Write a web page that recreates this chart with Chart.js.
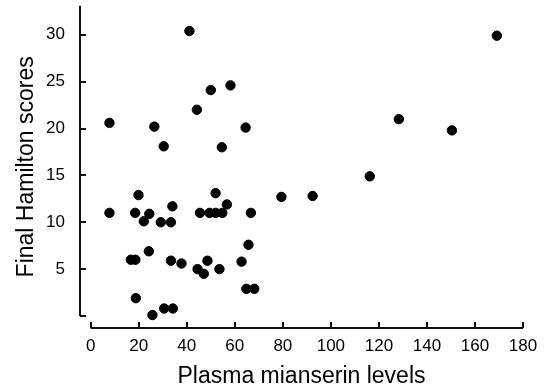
<!DOCTYPE html>
<html>
<head>
<meta charset="utf-8">
<script src="https://cdn.jsdelivr.net/npm/chart.js@4"></script>
<style>
    html, body { margin: 0; padding: 0; background: #fff; }
    #wrap { width: 551px; height: 392px; }
</style>
</head>
<body>
<div id="wrap"><canvas id="scatterChart" width="551" height="392"></canvas></div>
<script>
// Werte (Plasma-Spiegel, Hamilton-Score)
const mianserinLevels = [
    7.8, 7.8, 41.1, 44.2, 50.0, 58.2, 26.5, 30.4, 64.5, 54.6,
    19.9, 18.5, 24.4, 22.1, 29.2, 33.4, 34.0, 24.2, 16.7, 18.6,
    33.4, 37.8, 18.8, 25.7, 30.6, 34.2, 45.5, 49.5, 52.0, 54.8,
    52.0, 56.7, 66.7, 65.7, 62.8, 48.6, 44.5, 47.1, 53.6, 64.8,
    68.1, 79.4, 92.4, 116.2, 128.3, 150.4, 169.1
];
const hamiltonScores = [
    20.6, 11.0, 30.4, 22.0, 24.1, 24.6, 20.2, 18.1, 20.1, 18.0,
    12.9, 11.0, 10.9, 10.1, 10.0, 10.0, 11.7, 6.9, 6.0, 6.0,
    5.9, 5.6, 1.9, 0.1, 0.8, 0.8, 11.0, 11.0, 11.0, 11.0,
    13.1, 11.9, 11.0, 7.6, 5.8, 5.9, 5.0, 4.5, 5.0, 2.9,
    2.9, 12.7, 12.8, 14.9, 21.0, 19.8, 29.9
];
const xTicks = [0, 20, 40, 60, 80, 100, 120, 140, 160, 180];
const yTicks = [0, 5, 10, 15, 20, 25, 30];

const points = mianserinLevels.map((x, i) => ({ x: x, y: hamiltonScores[i] }));
const FONT = 'Liberation Sans, Arial, sans-serif';

// Achsen wie im Original: getrennt, Striche nach innen
const axisPlugin = {
    id: 'detachedAxes',
    afterDraw(chart) {
        const ctx = chart.ctx;
        const xs = chart.scales.x;
        const ys = chart.scales.y;
        const area = chart.chartArea;
        ctx.save();
        ctx.strokeStyle = '#111';
        ctx.lineWidth = 2;
        ctx.lineCap = 'butt';

        // y-Achse
        const y0 = ys.getPixelForValue(0);
        ctx.beginPath();
        ctx.moveTo(area.left, area.top);
        ctx.lineTo(area.left, y0);
        ctx.stroke();
        yTicks.forEach(t => {
            const py = Math.round(ys.getPixelForValue(t));
            ctx.beginPath();
            ctx.moveTo(area.left, py);
            ctx.lineTo(area.left + 6, py);
            ctx.stroke();
        });

        // x-Achse
        const xl = xs.getPixelForValue(0);
        const xr = xs.getPixelForValue(180);
        const by = area.bottom;
        ctx.beginPath();
        ctx.moveTo(xl, by);
        ctx.lineTo(xr, by);
        ctx.stroke();
        xTicks.forEach(t => {
            const px = Math.round(xs.getPixelForValue(t));
            ctx.beginPath();
            ctx.moveTo(px, by);
            ctx.lineTo(px, by - 6);
            ctx.stroke();
        });
        ctx.restore();
    }
};

const ctx = document.getElementById('scatterChart').getContext('2d');
new Chart(ctx, {
    type: 'scatter',
    data: {
        datasets: [{
            data: points,
            backgroundColor: '#000',
            borderColor: '#000',
            pointRadius: 4.7,
            pointHoverRadius: 4.7
        }]
    },
    options: {
        responsive: false,
        animation: false,
        layout: { padding: { left: 0, right: 28, top: 5, bottom: 0 } },
        plugins: { legend: { display: false }, tooltip: { enabled: false } },
        scales: {
            x: {
                type: 'linear',
                min: -4.46,
                max: 180,
                afterBuildTicks: s => { s.ticks = xTicks.map(v => ({ value: v })); },
                afterFit: s => { s.height = 64; s.paddingLeft = 0; s.paddingRight = 0; },
                grid: { display: false },
                border: { display: false },
                ticks: {
                    color: '#000',
                    padding: 0,
                    maxRotation: 0,
                    font: { family: FONT, size: 17 }
                },
                title: {
                    display: true,
                    text: 'Plasma mianserin levels',
                    color: '#000',
                    padding: { top: 0, bottom: 2 },
                    font: { family: FONT, size: 23 }
                }
            },
            y: {
                type: 'linear',
                min: -1.28,
                max: 33.1,
                afterBuildTicks: s => { s.ticks = yTicks.map(v => ({ value: v })); },
                afterFit: s => { s.width = 80; s.paddingTop = 0; s.paddingBottom = 0; },
                grid: { display: false },
                border: { display: false },
                ticks: {
                    color: '#000',
                    padding: 7,
                    callback: v => (v === 0 ? '' : v),
                    font: { family: FONT, size: 17 }
                },
                title: {
                    display: true,
                    text: 'Final Hamilton scores',
                    color: '#000',
                    padding: { top: 13, bottom: 0 },
                    font: { family: FONT, size: 23 }
                }
            }
        }
    },
    plugins: [axisPlugin]
});
</script>
</body>
</html>
